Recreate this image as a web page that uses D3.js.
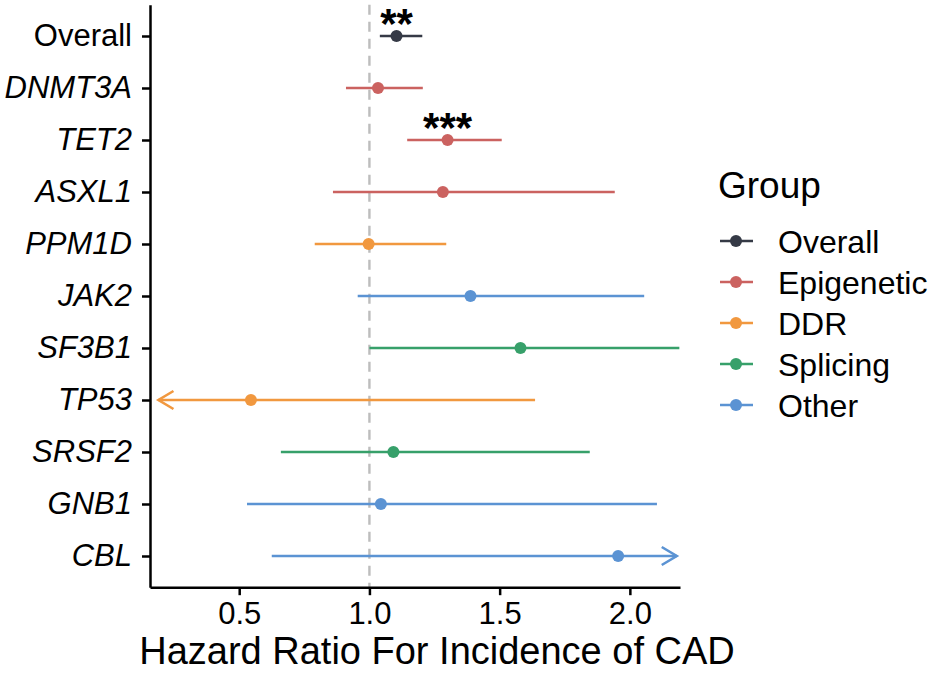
<!DOCTYPE html>
<html>
<head>
<meta charset="utf-8">
<script src="https://cdn.jsdelivr.net/npm/d3@7"></script>
<style>
  body { margin: 0; background: #fff; }
  svg { display: block; font-family: "Liberation Sans", Arial, Helvetica, sans-serif; }
</style>
</head>
<body>
<svg id="chart"></svg>
<script>
// forest plot: hazard ratio per CHIP gene

/*  DATA  */

const genes = ['Overall','DNMT3A','TET2','ASXL1','PPM1D','JAK2','SF3B1','TP53','SRSF2','GNB1','CBL'];
const geneGroup = ['Overall','Epigenetic','Epigenetic','Epigenetic','DDR','Other','Splicing','DDR','Splicing','Other','Other'];
const hazardRatio = [1.104, 1.033, 1.30, 1.282, 0.997, 1.388, 1.58, 0.545, 1.092, 1.044, 1.955];
const ciLower = [1.04, 0.91, 1.145, 0.86, 0.79, 0.955, 1.0, 0.19, 0.66, 0.53, 0.625];
const ciUpper = [1.203, 1.205, 1.508, 1.942, 1.295, 2.055, 2.19, 1.636, 1.846, 2.104, 2.18];
// which end runs off the axis and gets an arrow
const ciArrow = ['','','','','','','','left','','','right'];
const signif = ['**','','***','','','','','','','',''];

const groupNames = ['Overall','Epigenetic','DDR','Splicing','Other'];
const groupColors = ['#353a46','#cb6260','#f1983f','#37a06a','#5b93d3'];

const xTicks = [0.5, 1.0, 1.5, 2.0];
const xDomain = [0.1575, 2.1925];

/*  SETUP  */

const width = 931,
    height = 673;

const svg = d3.select('#chart')
    .attr('width', width)
    .attr('height', height);

svg.append('rect')
    .attr('width', width)
    .attr('height', height)
    .attr('fill', '#fff');

const x = d3.scaleLinear()
    .domain(xDomain)
    .range([150, 680]);

const y = d3.scalePoint()
    .domain(genes)
    .range([4.8, 587.2])
    .padding(0.6);

const color = d3.scaleOrdinal()
    .domain(groupNames)
    .range(groupColors);

const rows = genes.map((g, i) => ({
    gene: g,
    group: geneGroup[i],
    hr: hazardRatio[i],
    lo: ciLower[i],
    hi: ciUpper[i],
    arrow: ciArrow[i],
    sig: signif[i]
}));

/*  REFERENCE LINE  */

svg.append('line')
    .attr('x1', x(1)).attr('x2', x(1))
    .attr('y1', y.range()[0]).attr('y2', y.range()[1])
    .attr('stroke', '#bdbdbd')
    .attr('stroke-width', 2.4)
    .attr('stroke-dasharray', '10,7');

/*  INTERVALS  */

const marks = svg.append('g');

marks.selectAll('line.ci')
    .data(rows)
    .join('line')
    .attr('class', 'ci')
    .attr('x1', d => x(d.lo))
    .attr('x2', d => x(d.hi))
    .attr('y1', d => y(d.gene))
    .attr('y2', d => y(d.gene))
    .attr('stroke', d => color(d.group))
    .attr('stroke-width', 2.6);

// open arrow heads where the interval is cut off
marks.selectAll('path.arrow')
    .data(rows.filter(d => d.arrow != ''))
    .join('path')
    .attr('class', 'arrow')
    .attr('d', d => {
        let tip = d.arrow == 'left' ? x(d.lo) : x(d.hi),
            dir = d.arrow == 'left' ? 1 : -1,
            cy = y(d.gene);
        return 'M' + (tip + dir * 15) + ',' + (cy - 9) + 'L' + tip + ',' + cy + 'L' + (tip + dir * 15) + ',' + (cy + 9);
    })
    .attr('fill', 'none')
    .attr('stroke', d => color(d.group))
    .attr('stroke-width', 2.6);

marks.selectAll('circle')
    .data(rows)
    .join('circle')
    .attr('cx', d => x(d.hr))
    .attr('cy', d => y(d.gene))
    .attr('r', 6)
    .attr('fill', d => color(d.group));

marks.selectAll('text.sig')
    .data(rows.filter(d => d.sig != ''))
    .join('text')
    .attr('class', 'sig')
    .attr('x', d => x(d.hr))
    .attr('y', d => y(d.gene) + 2)
    .attr('text-anchor', 'middle')
    .attr('font-size', 42)
    .attr('font-weight', 'bold')
    .attr('fill', '#000')
    .text(d => d.sig);

/*  AXES  */

const yAxis = svg.append('g')
    .attr('transform', 'translate(150,0)')
    .call(d3.axisLeft(y).tickSize(8).tickSizeOuter(0).tickPadding(10));

yAxis.selectAll('text')
    .attr('font-size', 31)
    .attr('fill', '#000')
    .attr('font-family', '"Liberation Sans", Arial, sans-serif')
    .style('font-style', d => d == 'Overall' ? 'normal' : 'italic');

const xAxis = svg.append('g')
    .attr('transform', 'translate(0,' + y.range()[1] + ')')
    .call(d3.axisBottom(x).tickValues(xTicks).tickFormat(d3.format('.1f'))
        .tickSize(8).tickSizeOuter(0).tickPadding(7));

xAxis.selectAll('text')
    .attr('font-size', 31)
    .attr('fill', '#000')
    .attr('font-family', '"Liberation Sans", Arial, sans-serif');

svg.selectAll('.domain, .tick line')
    .attr('stroke', '#000')
    .attr('stroke-width', 2.5);

svg.append('text')
    .attr('x', 437)
    .attr('y', 664)
    .attr('text-anchor', 'middle')
    .attr('font-size', 38)
    .attr('fill', '#000')
    .text('Hazard Ratio For Incidence of CAD');

/*  LEGEND  */

const legend = svg.append('g');

legend.append('text')
    .attr('x', 718)
    .attr('y', 198)
    .attr('font-size', 37)
    .attr('fill', '#000')
    .text('Group');

const keys = legend.selectAll('g.key')
    .data(groupNames)
    .join('g')
    .attr('class', 'key')
    .attr('transform', (d, i) => 'translate(0,' + (241 + i * 41) + ')');

keys.append('line')
    .attr('x1', 720).attr('x2', 753)
    .attr('stroke', d => color(d))
    .attr('stroke-width', 2.6);

keys.append('circle')
    .attr('cx', 736)
    .attr('r', 6)
    .attr('fill', d => color(d));

keys.append('text')
    .attr('x', 778)
    .attr('dy', '0.36em')
    .attr('font-size', 32)
    .attr('fill', '#000')
    .text(d => d);
</script>
</body>
</html>
